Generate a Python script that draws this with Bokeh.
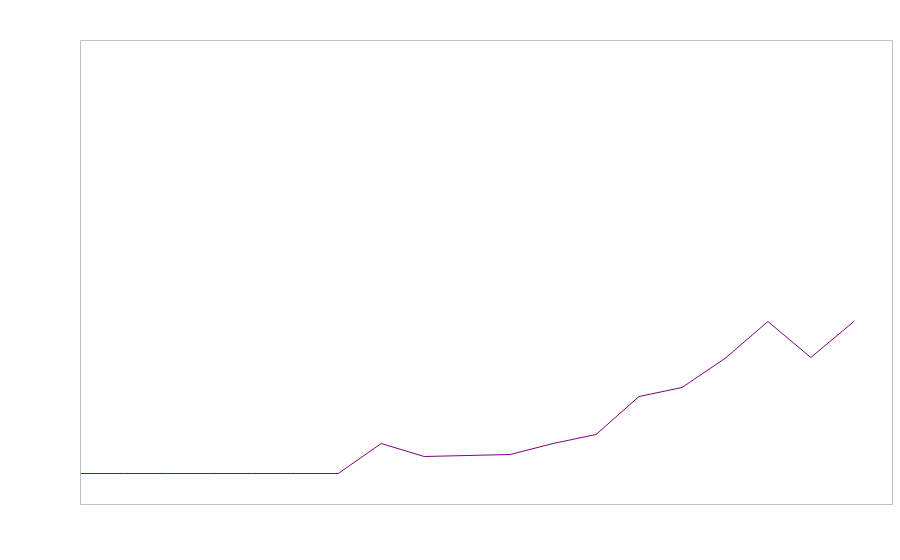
from bokeh.plotting import figure
from bokeh.models import Range1d
from bokeh.embed import file_html
from bokeh.resources import INLINE

x_vals = list(range(19))
y_vals = [0, 0, 0, 0, 0, 0, 0, 30, 17, 18, 19, 30, 39, 77, 86, 115, 152, 116, 152]

p = figure(output_backend="svg", toolbar_location=None,
           frame_width=812, frame_height=464,
           min_border_left=80, min_border_top=40, min_border_right=4, min_border_bottom=40,
           x_range=Range1d(0, 18.9), y_range=Range1d(-31, 433))
p.axis.visible = False
p.grid.visible = False
p.outline_line_color = "#c0c0c0"
p.outline_line_width = 1
p.outline_line_alpha = 1
p.background_fill_color = "white"
p.border_fill_color = "white"

p.line(x_vals, y_vals, line_color="purple", line_width=1)

open("out.html", "w").write(file_html(p, INLINE))
